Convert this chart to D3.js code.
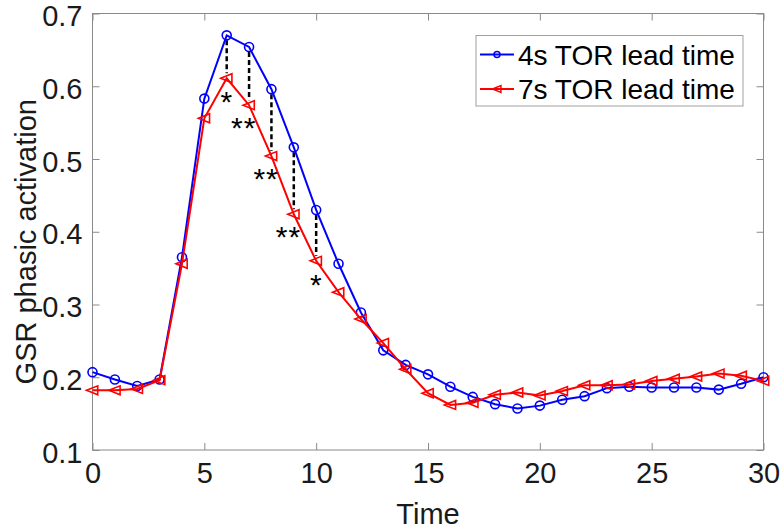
<!DOCTYPE html>
<html><head><meta charset="utf-8">
<script src="https://cdn.jsdelivr.net/npm/d3@7"></script>
<style>body{margin:0;background:#fff}svg{display:block;font-family:"Liberation Sans",Arial,Helvetica,sans-serif}</style>
</head><body><svg id="c" width="780" height="531"></svg>
<script>
const time = d3.range(0, 31);
const lead4s = [0.207,0.197,0.188,0.197,0.365,0.583,0.670,0.654,0.596,0.516,0.430,0.356,0.289,0.237,0.217,0.204,0.187,0.173,0.163,0.157,0.161,0.169,0.174,0.185,0.187,0.186,0.186,0.186,0.183,0.191,0.200];
const lead7s = [0.182,0.182,0.184,0.196,0.356,0.556,0.611,0.574,0.504,0.424,0.360,0.317,0.280,0.247,0.211,0.178,0.162,0.165,0.176,0.179,0.175,0.181,0.189,0.189,0.190,0.195,0.198,0.201,0.205,0.202,0.195];
const seriesNames = ["4s TOR lead time","7s TOR lead time"];
const sigTimes = [6,7,8,9,10];
const sigLabels = ["*","**","**","**","*"];
const xTicks = [0,5,10,15,20,25,30];
const yTicks = [0.1,0.2,0.3,0.4,0.5,0.6,0.7];

const svg = d3.select("#c");
const L=92.5, R=763.5, T=13.5, B=450;
const x = d3.scaleLinear().domain([0,30]).range([L,R]);
const y = d3.scaleLinear().domain([0.1,0.7]).range([B,T]);
const axisCol = "#8a8a8a", textCol = "#1a1a1a";

svg.append("rect").attr("x",L).attr("y",T).attr("width",R-L).attr("height",B-T)
  .attr("fill","none").attr("stroke",axisCol).attr("stroke-width",1);

const gx = svg.append("g").attr("transform",`translate(0,${B})`)
  .call(d3.axisBottom(x).tickValues(xTicks).tickSize(-7).tickPadding(12).tickFormat(d3.format("d")));
const gxt = svg.append("g").attr("transform",`translate(0,${T})`)
  .call(d3.axisTop(x).tickValues(xTicks).tickSize(-7).tickFormat(""));
const gy = svg.append("g").attr("transform",`translate(${L},0)`)
  .call(d3.axisLeft(y).tickValues(yTicks).tickSize(-7).tickPadding(10).tickFormat(d3.format(".1f")));
const gyr = svg.append("g").attr("transform",`translate(${R},0)`)
  .call(d3.axisRight(y).tickValues(yTicks).tickSize(-7).tickFormat(""));
[gx,gxt,gy,gyr].forEach(g=>{
  g.select(".domain").remove();
  g.selectAll(".tick line").attr("stroke",axisCol);
  g.selectAll("text").attr("fill",textCol).style("font-size","29px");
});
gy.selectAll("text").attr("dy","0.42em");

svg.append("text").attr("x",(L+R)/2).attr("y",524).attr("text-anchor","middle")
  .attr("fill",textCol).style("font-size","29px").text("Time");
svg.append("text").attr("transform",`translate(36,${(T+B)/2+10}) rotate(-90)`).attr("text-anchor","middle")
  .attr("fill",textCol).style("font-size","29px").text("GSR phasic activation");

sigTimes.forEach((t,i)=>{
  svg.append("line").attr("x1",x(t)).attr("x2",x(t)).attr("y1",y(lead4s[t])+5).attr("y2",y(lead7s[t])-5)
    .attr("stroke","#000").attr("stroke-width",2.5).attr("stroke-dasharray","5,3");
});

const line = d3.line().x((d,i)=>x(time[i])).y(d=>y(d));
const tri = r => `M${-r},0L${r*0.87},${-r*0.75}L${r*0.87},${r*0.75}Z`;

function drawSeries(vals,color,marker){
  svg.append("path").datum(vals).attr("d",line).attr("fill","none").attr("stroke",color).attr("stroke-width",2);
  const g = svg.append("g");
  vals.forEach((v,i)=>{
    if(marker==="o") g.append("circle").attr("cx",x(time[i])).attr("cy",y(v)).attr("r",4.5)
      .attr("fill","none").attr("stroke",color).attr("stroke-width",1.6);
    else g.append("path").attr("d",tri(6)).attr("transform",`translate(${x(time[i])},${y(v)})`)
      .attr("fill","none").attr("stroke",color).attr("stroke-width",1.6);
  });
}
drawSeries(lead4s,"#0000ff","o");
drawSeries(lead7s,"#ff0000","<");

// significance asterisks: single ones end just left of the point, doubles start just left of it
sigTimes.forEach((t,i)=>{
  const two = sigLabels[i].length>1;
  svg.append("text")
    .attr("x", two ? x(t)-18 : x(t)+5.5)
    .attr("y", y(lead7s[t]) + (two?16:17) + 17)
    .attr("text-anchor", two ? "start" : "end")
    .attr("fill","#000").style("font-size","30px")
    .style("letter-spacing",two?"1px":"0px").text(sigLabels[i]);
});

const lg = svg.append("g");
lg.append("rect").attr("x",476).attr("y",35.5).attr("width",267).attr("height",70.5)
  .attr("fill","#fff").attr("stroke","#a0a0a0").attr("stroke-width",1);
const rowsY=[54.5,89];
const colors=["#0000ff","#ff0000"];
seriesNames.forEach((n,i)=>{
  lg.append("line").attr("x1",480).attr("x2",514).attr("y1",rowsY[i]).attr("y2",rowsY[i]).attr("stroke",colors[i]).attr("stroke-width",2);
  if(i===0) lg.append("circle").attr("cx",497).attr("cy",rowsY[i]).attr("r",3).attr("fill","none").attr("stroke",colors[i]).attr("stroke-width",1.5);
  else lg.append("path").attr("d",tri(4.5)).attr("transform",`translate(497,${rowsY[i]})`).attr("fill","none").attr("stroke",colors[i]).attr("stroke-width",1.5);
  lg.append("text").attr("x",518).attr("y",rowsY[i]).attr("dy","0.36em").attr("fill","#000").style("font-size","28px").text(n);
});
</script></body></html>
